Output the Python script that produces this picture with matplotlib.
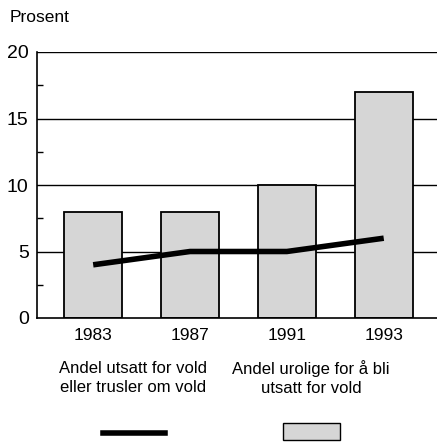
import matplotlib
matplotlib.use("Agg")
import matplotlib.pyplot as plt

years = ["1983", "1987", "1991", "1993"]
urolige = [8, 8, 10, 17]
utsatt = [4, 5, 5, 6]
yticks = [0, 5, 10, 15, 20]
label_line = "Andel utsatt for vold\neller trusler om vold"
label_bar = "Andel urolige for å bli\nutsatt for vold"

plt.rcParams["font.family"] = ["Liberation Sans", "DejaVu Sans"]
fill = "#d6d6d6"

fig = plt.figure(figsize=(4.37, 4.42), dpi=100)
ax = fig.add_axes([37/437, 1-318/442, 1-37/437, (318-52)/442])

x = list(range(len(years)))
for v in yticks[1:]:
    ax.axhline(v, color="black", lw=1.0, zorder=0)
ax.bar(x, urolige, width=0.6, color=fill, edgecolor="black", linewidth=1.3, zorder=2)
ax.plot(x, utsatt, color="black", lw=4, solid_capstyle="butt", zorder=3)

ax.set_xlim(-0.58, 3.55)
ax.set_ylim(0, 20)
ax.set_yticks(yticks)
ax.set_yticks([2.5, 7.5, 12.5, 17.5], minor=True)
ax.tick_params(axis="y", which="major", length=0, labelsize=14, pad=6)
ax.tick_params(axis="y", which="minor", length=4, direction="in", width=1)
ax.set_xticks(x)
ax.set_xticklabels(years)
ax.tick_params(axis="x", length=0, labelsize=12.5, pad=7)
for s in ["top", "right"]:
    ax.spines[s].set_visible(False)
for s in ["left", "bottom"]:
    ax.spines[s].set_linewidth(1.2)

fig.text(10/437, 1-18/442, "Prosent", fontsize=12.5, va="center", ha="left")
fig.text(133/437, 1-378/442, label_line, fontsize=12, ha="center", va="center", linespacing=1.4)
fig.text(311/437, 1-378/442, label_bar, fontsize=12, ha="center", va="center", linespacing=1.4)
fig.add_artist(plt.Line2D([103/437, 165/437], [1-433/442, 1-433/442], color="black", lw=4, transform=fig.transFigure))
fig.add_artist(plt.Rectangle((283/437, 1-440/442), 57/437, 17/442, facecolor=fill, edgecolor="black", lw=1.0, transform=fig.transFigure))

fig.savefig("out.png", dpi=100)
